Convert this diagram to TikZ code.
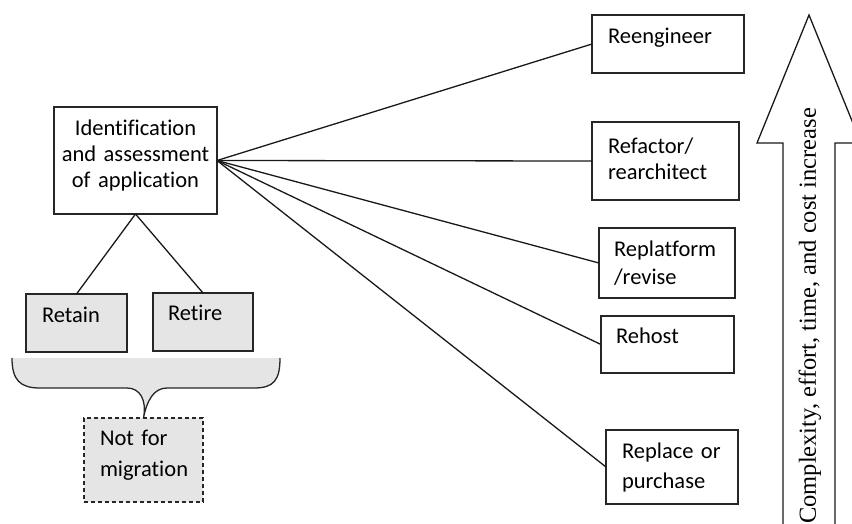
\documentclass[tikz,border=0pt]{standalone}
\usepackage{fontspec}
\setmainfont{Liberation Serif}
\newfontfamily\boxfont{Carlito}[Ligatures=NoCommon]
\begin{document}
\begin{tikzpicture}[x=1pt,y=-1pt,
  every node/.style={inner sep=0pt, outer sep=0pt},
  stepbox/.style={draw=black!85, line width=1.3pt, anchor=north west, align=left,
    font=\boxfont\fontsize{22.5}{28}\selectfont, inner xsep=16pt, inner ysep=0pt},
  greybox/.style={stepbox, fill=black!10},
  link/.style={draw=black!90, line width=1.3pt}]
\useasboundingbox (0,0) rectangle (852,523);
\clip (0,0) rectangle (852,523);

% central decision box
\node[stepbox, align=center, inner xsep=2pt, text width=159pt, minimum width=163pt,
      minimum height=107pt, font=\boxfont\fontsize{22.5}{26}\selectfont, text depth=66pt]
  (id) at (54,107) {Identification\\and assessment\\of application};

% applications kept out of migration
\node[greybox, text width=69pt, minimum width=101pt, minimum height=58pt, text depth=17pt]
  (retain) at (26,294) {Retain};
\node[greybox, inner xsep=15pt, text width=70pt, minimum width=100pt, minimum height=58pt,
      text depth=18pt] (retire) at (153,293) {Retire};
\node[greybox, dash pattern=on 4pt off 3pt, text width=87pt, minimum width=119pt,
      minimum height=84pt, font=\boxfont\fontsize{22.5}{31}\selectfont, text depth=44pt]
  (notmig) at (84,418) {Not for\\migration};

% migration strategies
\node[stepbox, text width=120pt, minimum width=152pt, minimum height=58pt, text depth=17pt]
  (reeng) at (592,15) {Reengineer};
\node[stepbox, text width=115pt, minimum width=147pt, minimum height=78pt,
      font=\boxfont\fontsize{22.5}{26}\selectfont, text depth=31pt]
  (refac) at (592,122) {Refactor/\\rearchitect};
\node[stepbox, inner xsep=15pt, text width=106pt, minimum width=136pt, minimum height=70pt]
  (replat) at (599,228) {Replatform\\/revise};
\node[stepbox, inner xsep=15pt, text width=103pt, minimum width=133pt, minimum height=57pt,
      text depth=18pt] (rehost) at (601,316) {Rehost};
\node[stepbox, text width=100pt, minimum width=132pt, minimum height=74pt,
      font=\boxfont\fontsize{22.5}{30}\selectfont]
  (replace) at (606,430) {Replace or\\purchase};

% connectors
\path[link] (id.south) -- (retain.north);
\path[link] (id.south) -- (retire.north);
\foreach \t in {reeng,refac,replat,rehost,replace}
  \path[link] (id.east) -- (\t.west);

% brace gathering Retain and Retire
\fill[black!10] (12,358) .. controls (12,380) and (20,388) .. (40,388) -- (127,388)
  .. controls (140,388) and (147,400) .. (notmig.north)
  .. controls (147,400) and (154,388) .. (167,388) -- (254,388)
  .. controls (274,388) and (280,380) .. (280,358) -- cycle;
\draw[black!85, line width=1.3pt] (12,358) .. controls (12,380) and (20,388) .. (40,388) -- (127,388)
  .. controls (140,388) and (147,400) .. (notmig.north)
  .. controls (147,400) and (154,388) .. (167,388) -- (254,388)
  .. controls (274,388) and (280,380) .. (280,358);

% rising block arrow
\draw[black!90, line width=1.3pt, fill=white] (783,530) -- (783,143) -- (757,143) -- (809,15)
  -- (861,143) -- (835,143) -- (835,530);
\node[rotate=90, font=\fontsize{24.5}{28}\selectfont] (scale) at (810,316)
  {Complexity, effort, time, and cost increase};
\end{tikzpicture}
\end{document}
